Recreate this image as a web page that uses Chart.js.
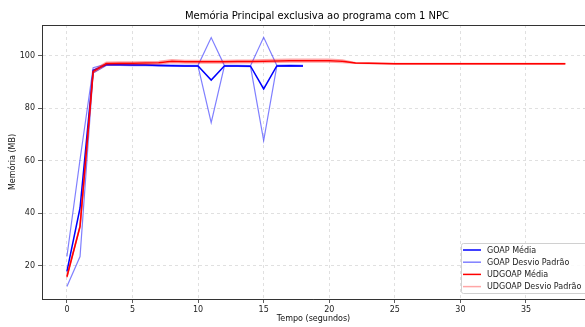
<!DOCTYPE html>
<html>
<head>
<meta charset="utf-8">
<script src="https://cdn.jsdelivr.net/npm/chart.js@4.4.1/dist/chart.umd.min.js"></script>
<style>
  html, body { margin: 0; padding: 0; background: #fff; }
  #wrap { width: 585px; height: 327px; }
</style>
</head>
<body>
<div id="wrap"><canvas id="grafica"></canvas></div>
<script>
// Dados
const tituloGrafico = 'Memória Principal exclusiva ao programa com 1 NPC';
const tempoGoap = [0, 1, 2, 3, 4, 5, 6, 7, 8, 9, 10, 11, 12, 13, 14, 15, 16, 17, 18];
const mediaGoap = [17.8, 42, 94.5, 96.6, 96.6, 96.5, 96.5, 96.4, 96.3, 96.2, 96.2, 90.8, 96.2, 96.2, 96.1, 87.4, 96.2, 96.3, 96.2];
const desvioGoap = [5.7, 18.5, 1, 0.25, 0.2, 0.2, 0.2, 0.2, 0.2, 0.2, 0.2, 16.2, 0.2, 0.2, 0.2, 19.7, 0.2, 0.2, 0.2];

const tempoUdgoap = [0, 1, 2, 3, 4, 5, 6, 7, 8, 9, 10, 11, 12, 13, 14, 15, 16, 17, 18, 19,
                     20, 21, 22, 23, 24, 25, 26, 27, 28, 29, 30, 31, 32, 33, 34, 35, 36, 37, 38];
const mediaUdgoap = [15.8, 35, 94, 97.1, 97.2, 97.2, 97.3, 97.4, 98, 97.8, 97.8, 97.8, 97.8, 97.9, 97.9, 98, 98.1, 98.2, 98.2, 98.2,
                     98.2, 98, 97.3, 97.2, 97.1, 97, 97, 97, 97, 97, 97, 97, 97, 97, 97, 97, 97, 97, 97];
const desvioUdgoap = [0.3, 0.3, 0.5, 0.5, 0.5, 0.5, 0.5, 0.5, 0.5, 0.5, 0.5, 0.5, 0.5, 0.5, 0.5, 0.5, 0.5, 0.5, 0.5, 0.5,
                      0.5, 0.5, 0.1, 0.1, 0.1, 0.1, 0.1, 0.1, 0.1, 0.1, 0.1, 0.1, 0.1, 0.1, 0.1, 0.1, 0.1, 0.1, 0.1];

const ticksX = [0, 5, 10, 15, 20, 25, 30, 35];
const ticksY = [20, 40, 60, 80, 100];
const legendas = ['GOAP Média', 'GOAP Desvio Padrão', 'UDGOAP Média', 'UDGOAP Desvio Padrão'];

const azul = '#0000ff';
const azulClaro = 'rgba(0,0,255,0.5)';
const vermelho = '#ff0000';
const vermelhoClaro = 'rgba(255,0,0,0.35)';
const fonte = 'DejaVu Sans';

// Monta pontos {x, y}
function pontos(tempos, valores) {
    return tempos.map((t, i) => ({ x: t, y: valores[i] }));
}
function desvio(tempos, medias, desvios, sinal) {
    return tempos.map((t, i) => ({ x: t, y: medias[i] + sinal * desvios[i] }));
}

function linha(label, data, cor, largura, ordem) {
    return {
        label: label,
        data: data,
        borderColor: cor,
        backgroundColor: cor,
        borderWidth: largura,
        pointRadius: 0,
        tension: 0,
        fill: false,
        order: ordem
    };
}

// Plugin para título, borda superior e legenda
const extras = {
    id: 'extras',
    afterDraw(chart) {
        const ctx = chart.ctx;
        const area = chart.chartArea;
        ctx.save();

        // borda superior
        ctx.strokeStyle = '#333';
        ctx.lineWidth = 1;
        ctx.beginPath();
        ctx.moveTo(area.left, area.top + 0.5);
        ctx.lineTo(area.right, area.top + 0.5);
        ctx.stroke();

        // título
        ctx.fillStyle = '#000';
        ctx.font = '10px "' + fonte + '"';
        ctx.textAlign = 'center';
        ctx.textBaseline = 'middle';
        ctx.fillText(tituloGrafico, 317, 16);

        // legenda
        const bx = 461.5, by = 243.5;
        ctx.fillStyle = 'rgba(255,255,255,0.85)';
        ctx.strokeStyle = '#d0d0d0';
        ctx.beginPath();
        ctx.roundRect(bx, by, 140, 50, 2);
        ctx.fill();
        ctx.stroke();

        const cores = [azul, azulClaro, vermelho, vermelhoClaro];
        ctx.font = '8px "' + fonte + '"';
        ctx.textAlign = 'left';
        legendas.forEach((txt, i) => {
            const y = 250 + i * 12.2;
            ctx.strokeStyle = cores[i];
            ctx.lineWidth = 1.5;
            ctx.beginPath();
            ctx.moveTo(463, y);
            ctx.lineTo(481, y);
            ctx.stroke();
            ctx.fillStyle = '#222';
            ctx.fillText(txt, 487, y + 0.5);
        });
        ctx.restore();
    }
};

const grafica = new Chart(document.getElementById('grafica'), {
    type: 'line',
    data: {
        datasets: [
            linha(legendas[0], pontos(tempoGoap, mediaGoap), azul, 1.5, 5),
            linha(legendas[1], desvio(tempoGoap, mediaGoap, desvioGoap, 1), azulClaro, 1.2, 4),
            linha(legendas[1], desvio(tempoGoap, mediaGoap, desvioGoap, -1), azulClaro, 1.2, 3),
            linha(legendas[2], pontos(tempoUdgoap, mediaUdgoap), vermelho, 1.5, 2),
            linha(legendas[3], desvio(tempoUdgoap, mediaUdgoap, desvioUdgoap, 1), vermelhoClaro, 1.5, 1),
            linha(legendas[3], desvio(tempoUdgoap, mediaUdgoap, desvioUdgoap, -1), vermelhoClaro, 1.5, 0)
        ]
    },
    options: {
        responsive: true,
        maintainAspectRatio: false,
        animation: false,
        layout: { padding: { top: 25, right: 0, left: 0, bottom: 0 } },
        plugins: {
            legend: { display: false },
            tooltip: { enabled: false },
            title: { display: false }
        },
        scales: {
            x: {
                type: 'linear',
                min: -1.9,
                max: 39.5,
                afterFit: (s) => { s.height = 28; },
                afterBuildTicks: (s) => { s.ticks = ticksX.map(v => ({ value: v })); },
                ticks: {
                    color: '#222',
                    font: { family: fonte, size: 8 },
                    padding: 2,
                    maxRotation: 0
                },
                grid: {
                    color: '#d9d9d9',
                    lineWidth: 0.8,
                    tickColor: '#333',
                    tickLength: 4,
                    tickBorderDash: []
                },
                border: { color: '#333', width: 1, dash: [3, 3] },
                title: {
                    display: true,
                    text: 'Tempo (segundos)',
                    color: '#111',
                    font: { family: fonte, size: 8 },
                    padding: { top: 0, bottom: 3 }
                }
            },
            y: {
                min: 7.3,
                max: 111.8,
                afterFit: (s) => { s.width = 42; },
                afterBuildTicks: (s) => { s.ticks = ticksY.map(v => ({ value: v })); },
                ticks: {
                    color: '#222',
                    font: { family: fonte, size: 8 },
                    padding: 3
                },
                grid: {
                    color: '#d9d9d9',
                    lineWidth: 0.8,
                    tickColor: '#333',
                    tickLength: 4,
                    tickBorderDash: []
                },
                border: { color: '#333', width: 1, dash: [3, 3] },
                title: {
                    display: true,
                    text: 'Memória (MB)',
                    color: '#111',
                    font: { family: fonte, size: 8 },
                    padding: { top: 8, bottom: 0 }
                }
            }
        }
    },
    plugins: [extras]
});
</script>
</body>
</html>
